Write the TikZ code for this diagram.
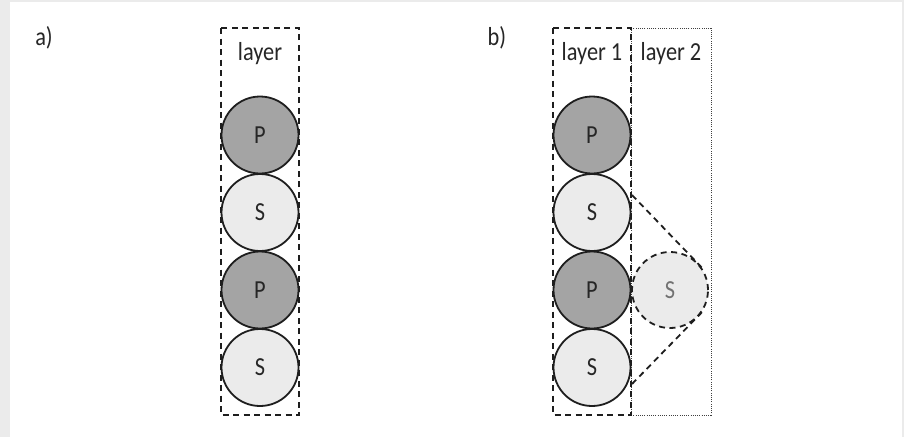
\documentclass[tikz,border=0pt]{standalone}
\usepackage{fontspec}
\setmainfont{Carlito}[FakeStretch=0.86]
\definecolor{pfill}{HTML}{A4A4A4}
\definecolor{sfill}{HTML}{EBEBEB}
\definecolor{txt}{HTML}{262626}
\definecolor{edge}{HTML}{1E1E1E}
\definecolor{bg}{HTML}{EBEBEB}
\begin{document}
\begin{tikzpicture}[x=1pt,y=-1pt,
  ball/.style={circle,draw=edge,line width=1.8pt,minimum size=77pt,inner sep=0pt,text=txt,font=\fontsize{26}{28}\selectfont},
  pball/.style={ball,fill=pfill},
  sball/.style={ball,fill=sfill},
  ghost/.style={ball,dashed,dash pattern=on 6pt off 4.5pt,fill=sfill,text=txt!65,minimum size=76pt},
  dbox/.style={draw=edge,line width=1.8pt,dash pattern=on 6pt off 4.5pt},
  obox/.style={draw=edge!85,line width=1pt,dash pattern=on 1pt off 1.2pt},
  lbl/.style={text=txt,font=\fontsize{26}{28}\selectfont},
  cone/.style={draw=edge,line width=1.8pt,dash pattern=on 6pt off 4.5pt}]
\fill[bg] (0,0) rectangle (904,437);
\fill[white] (10,2) rectangle (902,437);
\useasboundingbox (0,0) rectangle (904,437);

% panel a
\node[lbl] (la) at (44,38) {a)};
\draw[dbox] (221,28) rectangle (299,415);
\node[lbl] (layer) at (260,54) {layer};
\node[pball] (a1) at (260,135) {P};
\node[sball] (a2) at (260,212.5) {S};
\node[pball] (a3) at (260,290) {P};
\node[sball] (a4) at (260,367.5) {S};

% panel b
\node[lbl] (lb) at (497,38) {b)};
\draw[obox] (631,28) rectangle (711,415);
\node[sball] (b2) at (592,212.5) {S};
\node[sball] (b4) at (592,367.5) {S};
\node[pball] (b1) at (592,135) {P};
\node[pball] (b3) at (592,290) {P};
\draw[dbox] (553,28) rectangle (631,415);
\node[lbl] (l1) at (592,54) {layer 1};
\node[lbl] (l2) at (671,54) {layer 2};
\node[ghost] (g) at (670,290) {S};
\coordinate (u1) at (632,195);
\coordinate (d1) at (632,384);
\draw[cone] (u1) -- (g.35);
\draw[cone] (d1) -- (g.-35);
\end{tikzpicture}
\end{document}
